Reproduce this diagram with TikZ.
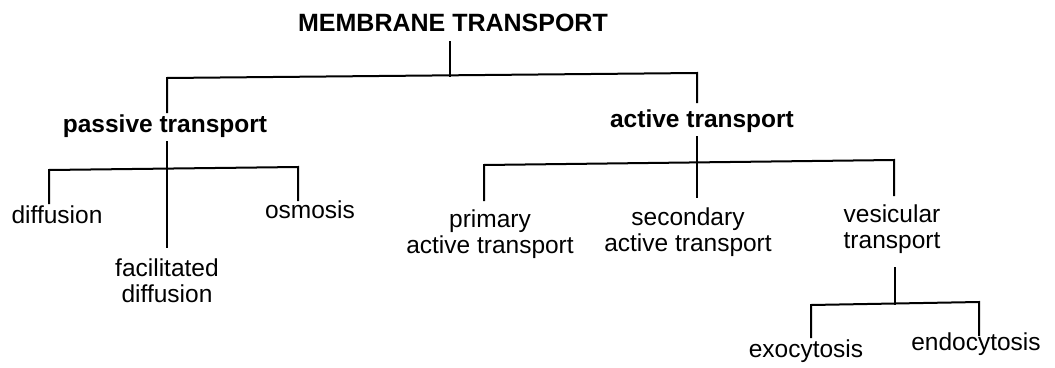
\documentclass[tikz,border=0pt]{standalone}
\usepackage{fontspec}
\setmainfont{Liberation Sans}
\begin{document}
\begin{tikzpicture}[x=1pt,y=-1pt,
  lbl/.style={inner sep=0pt, anchor=base, align=center, font=\fontsize{24.5}{26}\selectfont},
  head/.style={inner sep=0pt, anchor=base, font=\fontsize{24.5}{26}\selectfont\bfseries},
  conn/.style={line width=2pt, line cap=rect}]
\useasboundingbox (0,0) rectangle (1055,367);
% nodes (multi-line nodes: base = baseline of last line)
\node[head, font=\fontsize{25}{27}\selectfont\bfseries] (mt) at (453,31) {MEMBRANE TRANSPORT};
\node[head] (pt) at (165,132) {passive transport};
\node[head] (at) at (702,127) {active transport};
\node[lbl] (dif) at (57,223) {diffusion};
\node[lbl] (fac) at (167,302) {facilitated\\diffusion};
\node[lbl] (osm) at (310,218) {osmosis};
\node[lbl] (pri) at (490,253) {primary\\active transport};
\node[lbl] (sec) at (688,251) {secondary\\active transport};
\node[lbl] (ves) at (892,248) {vesicular\\transport};
\node[lbl] (exo) at (806,357) {exocytosis};
\node[lbl] (endo) at (976,350) {endocytosis};
% junction coordinates
\coordinate (mt-s) at (450,42);
\coordinate (j0) at (450,76);
\coordinate (jl) at (167,78);
\coordinate (jr) at (697,73);
\coordinate (pt-n) at (167,112);
\coordinate (at-n) at (697,102);
\coordinate (pt-s) at (167,142);
\coordinate (jpl) at (49,170);
\coordinate (jpr) at (298,167);
\coordinate (dif-n) at (49,203);
\coordinate (osm-n) at (298,200);
\coordinate (fac-n) at (167,247);
\coordinate (at-s) at (697,137);
\coordinate (jal) at (484,165);
\coordinate (jar) at (894,160);
\coordinate (pri-n) at (484,200);
\coordinate (sec-n) at (697,197);
\coordinate (ves-n) at (894,195);
\coordinate (ves-s) at (895,268);
\coordinate (jv) at (895,303.5);
\coordinate (jvl) at (811,305);
\coordinate (jvr) at (979,302);
\coordinate (exo-n) at (811,337);
\coordinate (endo-n) at (979,335);
% connectors
\draw[conn] (mt-s) -- (j0);
\draw[conn] (pt-n) -- (jl) -- (jr) -- (at-n);
\draw[conn] (pt-s) -- (fac-n);
\draw[conn] (dif-n) -- (jpl) -- (jpr) -- (osm-n);
\draw[conn] (at-s) -- (sec-n);
\draw[conn] (pri-n) -- (jal) -- (jar) -- (ves-n);
\draw[conn] (ves-s) -- (jv);
\draw[conn] (exo-n) -- (jvl) -- (jvr) -- (endo-n);
\end{tikzpicture}
\end{document}
